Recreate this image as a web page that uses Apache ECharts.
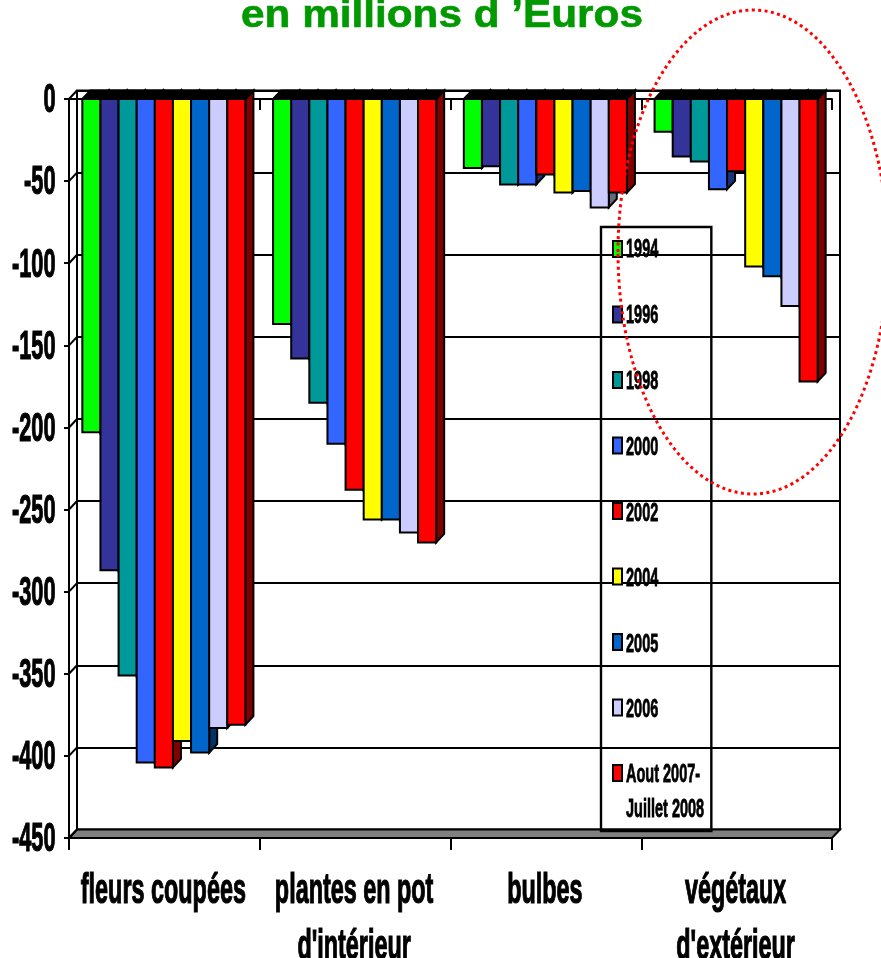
<!DOCTYPE html>
<html><head><meta charset="utf-8">
<style>html,body{margin:0;padding:0;background:#fff}#c{width:881px;height:958px}</style>
<script src="https://cdn.jsdelivr.net/npm/echarts@6/dist/echarts.min.js"></script>
</head><body><div id="c"></div>
<script>
const titleText = 'en millions d ’Euros';
const categories = ["fleurs coupées", "plantes en pot\nd'intérieur", "bulbes", "végétaux\nd'extérieur"];
const seriesNames = ["1994","1996","1998","2000","2002","2004","2005","2006","Aout 2007-\nJuillet 2008"];
const colors = ["#00ff00","#333399","#009999","#3366ff","#ff0000","#ffff00","#0066cc","#ccccff","#ff0000"];
const sideColors = ["#008000","#1a1a4d","#004d4d","#1a3380","#800000","#808000","#003366","#666680","#800000"];
const v1994 = [-203,-137,-42,-20];
const v1996 = [-287,-158,-41,-35];
const v1998 = [-351,-185,-52,-38];
const v2000 = [-404,-210,-52,-55];
const v2002 = [-407,-238,-46,-44];
const v2004 = [-391,-256,-57,-102];
const v2005 = [-398,-256,-56,-108];
const v2006 = [-383,-264,-66,-126];
const v2008 = [-381,-270,-57,-172];
const allValues = [v1994,v1996,v1998,v2000,v2002,v2004,v2005,v2006,v2008];
const yTicks = [0,-50,-100,-150,-200,-250,-300,-350,-400,-450];

const DX = 8, DY = -8.5, GROUP = 0.855;
const FONT = '"Liberation Sans"';
const chart = echarts.init(document.getElementById('c'));

function barItem(si){
  return function(params, api){
    const cat = api.value(0), val = api.value(1);
    const band = api.size([1,0])[0];
    const w = band*GROUP/9;
    const c0 = api.coord([cat,0]), c1 = api.coord([cat,val]);
    const x = c0[0]-0.5-band*GROUP/2+si*w, y0 = c0[1], y1 = c1[1];
    const ln = {stroke:'#000',lineWidth:2,lineJoin:'miter'};
    return {type:'group',children:[
      {type:'polygon',shape:{points:[[x+w,y0],[x+w+DX,y0+DY],[x+w+DX,y1+DY],[x+w,y1]]},style:Object.assign({fill:sideColors[si]},ln)},
      {type:'polygon',shape:{points:[[x,y0],[x+DX,y0+DY],[x+w+DX,y0+DY],[x+w,y0]]},style:{fill:'#000',stroke:'#000',lineWidth:2}},
      {type:'rect',shape:{x:x,y:y0,width:w,height:y1-y0},style:Object.assign({fill:colors[si]},ln)}
    ]};
  };
}

const bars = seriesNames.map((n,si)=>({
  name:n,type:'custom',xAxisIndex:0,yAxisIndex:0,z:5,
  itemStyle:{color:colors[si]},
  encode:{x:0,y:1},
  data:allValues[si].map((v,i)=>[i,v]),
  renderItem:barItem(si)
}));

const frame = {
  type:'custom',xAxisIndex:0,yAxisIndex:0,z:3,silent:true,
  encode:{y:0},
  data:yTicks.map(t=>[t]),
  renderItem(params,api){
    const t = api.value(0);
    const a = api.coord([0,t]);
    const band = api.size([1,0])[0];
    const x0 = a[0]-band/2, y = a[1];
    const children = [
      {type:'line',shape:{x1:x0,y1:y,x2:x0+DX,y2:y+DY},style:{stroke:'#000',lineWidth:2}},
      {type:'text',x:x0-13.5,y:y+2,scaleX:0.53,style:{text:String(t),font:'bold 41px '+FONT,fill:'#000',stroke:'#000',lineWidth:1.2,align:'right',verticalAlign:'middle'}}
    ];
    if(t===-450){
      const xr = x0+band*4;
      children.unshift({type:'polygon',shape:{points:[[x0,y],[x0+DX,y+DY],[xr+DX,y+DY],[xr,y]]},style:{fill:'#808080',stroke:'#000',lineWidth:2}});
    }
    return {type:'group',children};
  }
};

const catLabels = {
  type:'custom',xAxisIndex:0,yAxisIndex:0,z:3,silent:true,
  encode:{x:0},
  data:categories.map((c,i)=>[i]),
  renderItem(params,api){
    const i = api.value(0);
    const p = api.coord([i,-450]);
    return {type:'group',children:categories[i].split('\n').map((line,k)=>({
      type:'text',x:p[0]-1,y:p[1]+53+k*56,scaleX:0.557,
      style:{text:line,font:'bold 42px '+FONT,fill:'#000',stroke:'#000',lineWidth:1.2,align:'center',verticalAlign:'middle'}
    }))};
  }
};

const legendTextY = [248,314,380,446,512,577,643,708,773,808];
const legendLines = seriesNames.join('\n').split('\n');
const legendTexts = legendLines.map((line,k)=>({
  type:'text',z:60,silent:true,x:626,y:legendTextY[k]+2,scaleX:0.58,
  style:{text:line,font:'bold 25px '+FONT,fill:'#000',stroke:'#000',lineWidth:0.8,align:'left',verticalAlign:'middle'}
}));

chart.setOption({
  animation:false,
  backgroundColor:'#fff',
  grid:[
    {left:69,right:49,top:99,bottom:120},
    {left:77,right:41,top:90.5,bottom:128.5,show:true,borderColor:'#000',borderWidth:2,backgroundColor:'transparent'}
  ],
  xAxis:[
    {type:'category',gridIndex:0,data:categories,position:'bottom',axisLine:{onZero:false,lineStyle:{color:'#000',width:2}},
     axisTick:{show:true,length:12,lineStyle:{color:'#000',width:2}},axisLabel:{show:false},splitLine:{show:false}},
    {type:'category',gridIndex:0,data:categories,position:'top',axisLine:{onZero:false,lineStyle:{color:'#000',width:2}},
     axisTick:{show:true,inside:true,length:11,lineStyle:{color:'#000',width:2}},axisLabel:{show:false},splitLine:{show:false}},
    {type:'category',gridIndex:1,data:categories,show:false}
  ],
  yAxis:[
    {type:'value',gridIndex:0,min:-450,max:0,interval:50,
     axisLine:{show:true,onZero:false,lineStyle:{color:'#000',width:2}},
     axisTick:{show:true,length:5,lineStyle:{color:'#000',width:2}},
     axisLabel:{show:false},splitLine:{show:false}},
    {type:'value',gridIndex:1,min:-450,max:0,interval:50,
     axisLine:{show:false},axisTick:{show:false},axisLabel:{show:false},
     splitLine:{show:true,lineStyle:{color:'#000',width:2}}}
  ],
  legend:{
    orient:'vertical',left:601,top:227,data:seriesNames,selectedMode:false,
    formatter:()=>' ',
    backgroundColor:'transparent',borderColor:'#000',borderWidth:2.4,
    padding:[13,81,49,11],itemGap:47.5,itemWidth:9,itemHeight:16,
    icon:'rect',
    itemStyle:{borderColor:'#000',borderWidth:2},
    textStyle:{fontFamily:FONT,fontSize:12,color:'#000'}
  },
  graphic:[
    {type:'text',x:442,y:17,scaleX:1.113,silent:true,
      style:{text:titleText,font:'bold 38px '+FONT,fill:'#009900',stroke:'#009900',lineWidth:0.6,align:'center',verticalAlign:'middle'}},
    ...legendTexts,
    {type:'ellipse',z:100,silent:true,shape:{cx:753,cy:252,rx:135,ry:242},
      style:{fill:'transparent',stroke:'#ff0000',lineWidth:3,lineDash:[3,3.4]}}
  ],
  series:[frame,catLabels].concat(bars)
});
</script></body></html>
